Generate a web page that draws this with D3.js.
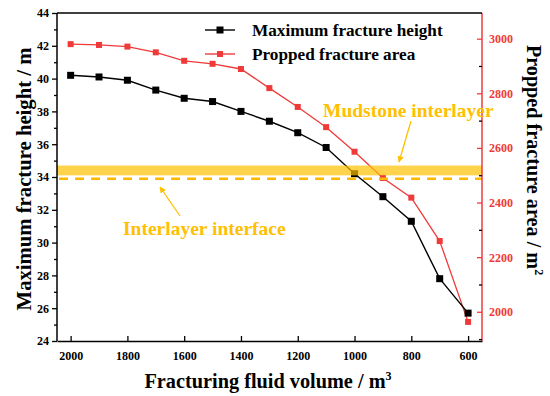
<!DOCTYPE html>
<html><head><meta charset="utf-8">
<script src="https://cdn.jsdelivr.net/npm/d3@7"></script>
<style>
html,body{margin:0;padding:0;background:#fff;}
svg{display:block;font-family:"Liberation Serif","Times New Roman",serif;font-weight:bold;}
</style></head>
<body>
<svg id="chart" width="550" height="396"></svg>
<script>
const volumes = [2000,1900,1800,1700,1600,1500,1400,1300,1200,1100,1000,900,800,700,600];
const fractureHeight = [40.2,40.1,39.9,39.3,38.8,38.6,38.0,37.4,36.7,35.8,34.2,32.8,31.3,27.8,25.7];
const proppedArea = [2980,2977,2971,2950,2919,2908,2889,2819,2750,2676,2586,2490,2418,2259,1963];
const xTicks = [2000,1800,1600,1400,1200,1000,800,600];
const yLeftTicks = [24,26,28,30,32,34,36,38,40,42,44];
const yRightTicks = [2000,2200,2400,2600,2800,3000];
const mudstoneBand = [34.1,34.7];
const interfaceLevel = 33.9;
const seriesNames = ["Maximum fracture height","Propped fracture area"];

const svg = d3.select("#chart");
const L=57, R=482, T=13, B=341;
const x = d3.scaleLinear().domain([2048,551]).range([L,R]);
const yL = d3.scaleLinear().domain([24,44]).range([B,T]);
const yR = d3.scaleLinear().domain([1893,3094]).range([B,T]);
const red = "#f03a3a", gold="#ffc000";
const fmt = d3.format("d");
const FF = "Liberation Serif, Times New Roman, serif";

// series
const lineL = d3.line().x((d,i)=>x(volumes[i])).y(d=>yL(d));
const lineR = d3.line().x((d,i)=>x(volumes[i])).y(d=>yR(d));
svg.append("path").attr("d",lineR(proppedArea)).attr("fill","none").attr("stroke",red).attr("stroke-width",1.3);
svg.selectAll(".pr").data(proppedArea).enter().append("rect")
  .attr("x",(d,i)=>x(volumes[i])-3).attr("y",d=>yR(d)-3).attr("width",6).attr("height",6).attr("fill",red);
svg.append("path").attr("d",lineL(fractureHeight)).attr("fill","none").attr("stroke","#000").attr("stroke-width",1.4);
svg.selectAll(".ph").data(fractureHeight).enter().append("rect")
  .attr("x",(d,i)=>x(volumes[i])-3.5).attr("y",d=>yL(d)-3.5).attr("width",7).attr("height",7).attr("fill","#000");

// band and interface line
svg.append("rect").attr("x",L).attr("width",R-L)
  .attr("y",yL(mudstoneBand[1])).attr("height",yL(mudstoneBand[0])-yL(mudstoneBand[1]))
  .attr("fill",gold).attr("opacity",0.7);
svg.append("line").attr("x1",L+2).attr("x2",R).attr("y1",yL(interfaceLevel)).attr("y2",yL(interfaceLevel))
  .attr("stroke","#ffb800").attr("stroke-width",2.5).attr("stroke-dasharray","9,7");

// axes
const gx = svg.append("g").attr("transform",`translate(0,${B})`)
  .call(d3.axisBottom(x).tickValues(xTicks).tickFormat(fmt).tickSizeInner(-5).tickSizeOuter(0).tickPadding(10));
const gl = svg.append("g").attr("transform",`translate(${L},0)`)
  .call(d3.axisLeft(yL).tickValues(yLeftTicks).tickFormat(fmt).tickSize(5).tickPadding(3));
svg.append("g").attr("transform",`translate(${L},0)`)
  .call(d3.axisLeft(yL).tickValues(d3.range(25,44,2)).tickSize(3).tickFormat(""))
  .select(".domain").remove();
const gr = svg.append("g").attr("transform",`translate(${R},0)`)
  .call(d3.axisRight(yR).tickValues(yRightTicks).tickFormat(fmt).tickSizeInner(-5).tickSizeOuter(0).tickPadding(7));
svg.append("g").attr("transform",`translate(${R},0)`)
  .call(d3.axisRight(yR).tickValues(d3.range(1900,3100,200)).tickSize(-3).tickFormat(""))
  .select(".domain").remove();
svg.selectAll("g").attr("font-family",FF);
[gx,gl].forEach(g=>{g.selectAll("path,line").attr("stroke","#000").attr("stroke-width",1.5);
  g.selectAll("text").attr("font-weight","bold").attr("font-size",12).attr("fill","#000");});
gl.select(".domain").attr("d",`M0,${B}V${T}`);
gr.selectAll("path,line").attr("stroke",red).attr("stroke-width",1.5);
gr.select(".domain").attr("d",`M0,${T}V${B}`);
gr.selectAll("text").attr("font-weight","bold").attr("font-size",12).attr("fill",red);
svg.selectAll("g line").attr("stroke-width",1.3);
// top frame
svg.append("line").attr("x1",L).attr("x2",R).attr("y1",T).attr("y2",T).attr("stroke","#000").attr("stroke-width",1.5);

// titles
svg.append("text").attr("x",268).attr("y",388).attr("text-anchor","middle").attr("font-size",20.3)
  .text("Fracturing fluid volume / m").append("tspan").attr("font-size",12).attr("dy",-8).text("3");
svg.append("text").attr("transform","translate(31,179) rotate(-90)").attr("text-anchor","middle").attr("font-size",20.7)
  .text("Maximum fracture height / m");
svg.append("text").attr("transform","translate(527,160) rotate(90)").attr("text-anchor","middle").attr("font-size",20.2)
  .text("Propped fracture area / m").append("tspan").attr("font-size",12).attr("dy",-8).text("2");

// legend
const leg = svg.append("g");
[["#000",30,7],[red,54,6]].forEach((c,i)=>{
  leg.append("line").attr("x1",205).attr("x2",235).attr("y1",c[1]).attr("y2",c[1]).attr("stroke",c[0]).attr("stroke-width",1.4);
  leg.append("rect").attr("x",220-c[2]/2).attr("y",c[1]-c[2]/2).attr("width",c[2]).attr("height",c[2]).attr("fill",c[0]);
  leg.append("text").attr("x",252).attr("y",c[1]+6).attr("font-size",17.2).attr("fill","#000").text(seriesNames[i]);
});

// annotations
svg.append("defs").append("marker").attr("id","ah").attr("viewBox","0 0 10 10").attr("refX",9).attr("refY",5)
  .attr("markerWidth",5).attr("markerHeight",5).attr("orient","auto")
  .append("path").attr("d","M0,0L10,5L0,10z").attr("fill",gold);
svg.append("text").attr("x",323).attr("y",117).attr("font-size",19.5).attr("fill",gold).text("Mudstone interlayer");
svg.append("line").attr("x1",411).attr("y1",121).attr("x2",399).attr("y2",162)
  .attr("stroke",gold).attr("stroke-width",1.3).attr("marker-end","url(#ah)");
svg.append("text").attr("x",123).attr("y",235).attr("font-size",19.5).attr("fill",gold).text("Interlayer interface");
svg.append("line").attr("x1",180).attr("y1",216).attr("x2",160).attr("y2",187)
  .attr("stroke",gold).attr("stroke-width",1.3).attr("marker-end","url(#ah)");
</script>
</body></html>
